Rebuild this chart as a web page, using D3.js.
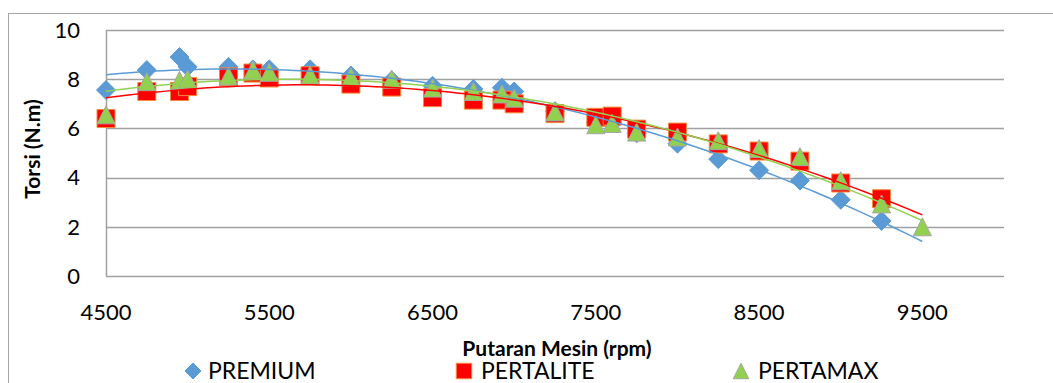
<!DOCTYPE html>
<html>
<head>
<meta charset="utf-8">
<script src="https://cdn.jsdelivr.net/npm/d3@7"></script>
<style>
  body { margin: 0; background: #fff; }
  text { font-family: Lato, "Open Sans", sans-serif; fill: #000; }
</style>
</head>
<body>
<div id="chart"></div>
<script>
var seriesNames = ['PREMIUM', 'PERTALITE', 'PERTAMAX'];
var rpm = [4500, 4750, 4950, 5000, 5250, 5400, 5500, 5750, 6000, 6250, 6500, 6750,
           6925, 7000, 7250, 7500, 7600, 7750, 8000, 8250, 8500, 8750, 9000, 9250];
var rpmPertamax = rpm.concat([9500]);
var torsiPremium = [7.56, 8.37, 8.9, 8.5, 8.5, 8.4, 8.4, 8.4, 8.15, 7.95, 7.73, 7.6,
                    7.65, 7.5, 6.7, 6.25, 6.2, 5.8, 5.38, 4.75, 4.3, 3.88, 3.1, 2.24];
var torsiPertalite = [6.4, 7.5, 7.5, 7.7, 8.1, 8.25, 8.05, 8.14, 7.8, 7.68, 7.25, 7.15,
                      7.15, 7.0, 6.6, 6.45, 6.5, 5.97, 5.85, 5.37, 5.08, 4.67, 3.78, 3.14];
var torsiPertamax = [6.55, 7.9, 7.95, 8.0, 8.13, 8.37, 8.28, 8.17, 8.1, 8.0, 7.64, 7.5,
                     7.4, 7.23, 6.67, 6.15, 6.2, 5.85, 5.65, 5.5, 5.18, 4.85, 3.87, 2.93, 2.0];
var xTicks = [4500, 5500, 6500, 7500, 8500, 9500];
var yTicks = [0, 2, 4, 6, 8, 10];

var width = 1053, height = 383;
var plotLeft = 106, plotRight = 1004, plotTop = 30, plotBottom = 276;

var svg = d3.select('#chart').append('svg')
  .attr('width', width)
  .attr('height', height);

svg.append('rect')
  .attr('width', width).attr('height', height)
  .attr('fill', '#fff');

// chart frame (runs off the right/bottom of the picture)
svg.append('rect')
  .attr('x', 8.5).attr('y', 13.5)
  .attr('width', 1100).attr('height', 400)
  .attr('fill', 'none')
  .attr('stroke', '#a6a6a6')
  .attr('stroke-width', 1);

var x = d3.scaleLinear().domain([4500, 10000]).range([plotLeft, plotRight]);
var y = d3.scaleLinear().domain([0, 10]).range([plotBottom, plotTop]);

// gridlines
svg.append('g').selectAll('line')
  .data(yTicks)
  .enter().append('line')
  .attr('x1', plotLeft).attr('x2', plotRight)
  .attr('y1', function(d) { return Math.round(y(d)) + 0.5; })
  .attr('y2', function(d) { return Math.round(y(d)) + 0.5; })
  .attr('stroke', '#a0a0a0')
  .attr('stroke-width', 1.5);

svg.append('line')
  .attr('x1', plotLeft + 0.5).attr('x2', plotLeft + 0.5)
  .attr('y1', plotTop).attr('y2', plotBottom)
  .attr('stroke', '#a0a0a0')
  .attr('stroke-width', 1.5);

// tick labels
svg.append('g').selectAll('text')
  .data(yTicks)
  .enter().append('text')
  .attr('x', 80)
  .attr('y', function(d) { return y(d); })
  .attr('dy', '0.35em')
  .attr('text-anchor', 'end')
  .style('font-size', '22px')
  .text(function(d) { return d; });

svg.append('g').selectAll('text')
  .data(xTicks)
  .enter().append('text')
  .attr('x', function(d) { return x(d); })
  .attr('y', 312)
  .attr('dy', '0.35em')
  .attr('text-anchor', 'middle')
  .style('font-size', '22px')
  .text(function(d) { return d; });

// axis titles
svg.append('text')
  .attr('x', 557).attr('y', 349)
  .attr('dy', '0.35em')
  .attr('text-anchor', 'middle')
  .style('font-size', '21px')
  .style('font-weight', 'bold')
  .text('Putaran Mesin (rpm)');

svg.append('text')
  .attr('transform', 'translate(33,149) rotate(-90)')
  .attr('dy', '0.35em')
  .attr('text-anchor', 'middle')
  .style('font-size', '21px')
  .style('font-weight', 'bold')
  .text('Torsi (N.m)');

// marker shapes
var diamond = {
  draw: function(ctx, size) {
    var r = Math.sqrt(size) / 2;
    ctx.moveTo(0, -r); ctx.lineTo(r, 0); ctx.lineTo(0, r); ctx.lineTo(-r, 0); ctx.closePath();
  }
};
var triangle = {
  draw: function(ctx, size) {
    var r = Math.sqrt(size) / 2;
    ctx.moveTo(0, -r); ctx.lineTo(r, r); ctx.lineTo(-r, r); ctx.closePath();
  }
};

var series = [
  { name: seriesNames[0], xs: rpm, ys: torsiPremium, shape: diamond, fill: '#5b9bd5', stroke: '#5b9bd5', line: '#5b9bd5', size: 19 * 19 },
  { name: seriesNames[1], xs: rpm, ys: torsiPertalite, shape: d3.symbolSquare, fill: '#ff0000', stroke: '#f08c3c', line: '#ff0000', size: 18 * 18 },
  { name: seriesNames[2], xs: rpmPertamax, ys: torsiPertamax, shape: triangle, fill: '#92d050', stroke: '#a5a5a5', line: '#92d050', size: 18 * 18 }
];

series.forEach(function(s) {
  var pts = s.xs.map(function(v, i) { return [v, s.ys[i]]; });
  svg.append('g').selectAll('path')
    .data(pts)
    .enter().append('path')
    .attr('transform', function(d) { return 'translate(' + x(d[0]) + ',' + y(d[1]) + ')'; })
    .attr('d', d3.symbol().type(s.shape).size(s.size))
    .attr('fill', s.fill)
    .attr('stroke', s.stroke)
    .attr('stroke-width', 1);
});

// polynomial trendlines (least squares, order 2)
function polyfit(xs, ys, order) {
  var n = order + 1, A = [], b = [];
  for (var i = 0; i < n; i++) {
    A.push([]); b.push(0);
    for (var j = 0; j < n; j++) A[i].push(0);
  }
  xs.forEach(function(xv, k) {
    var t = (xv - 7000) / 1000;
    for (var i = 0; i < n; i++) {
      b[i] += ys[k] * Math.pow(t, i);
      for (var j = 0; j < n; j++) A[i][j] += Math.pow(t, i + j);
    }
  });
  for (var c = 0; c < n; c++) {
    for (var r = c + 1; r < n; r++) {
      var f = A[r][c] / A[c][c];
      for (var k = c; k < n; k++) A[r][k] -= f * A[c][k];
      b[r] -= f * b[c];
    }
  }
  var coef = new Array(n);
  for (var r2 = n - 1; r2 >= 0; r2--) {
    var sum = b[r2];
    for (var k2 = r2 + 1; k2 < n; k2++) sum -= A[r2][k2] * coef[k2];
    coef[r2] = sum / A[r2][r2];
  }
  return function(xv) {
    var t = (xv - 7000) / 1000, v = 0;
    for (var i = 0; i < n; i++) v += coef[i] * Math.pow(t, i);
    return v;
  };
}

var line = d3.line()
  .x(function(d) { return x(d[0]); })
  .y(function(d) { return y(d[1]); });

series.forEach(function(s) {
  var fit = polyfit(s.xs, s.ys, 2);
  var samples = d3.range(4500, 9501, 50).map(function(v) { return [v, fit(v)]; });
  svg.append('path')
    .datum(samples)
    .attr('d', line)
    .attr('fill', 'none')
    .attr('stroke', s.line)
    .attr('stroke-width', 1.5);
});

// legend
var legendX = [193, 464, 741];
var legend = svg.selectAll('.legend')
  .data(series)
  .enter().append('g')
  .attr('class', 'legend')
  .attr('transform', function(d, i) { return 'translate(' + legendX[i] + ',371)'; });

legend.append('path')
  .attr('d', function(d) { return d3.symbol().type(d.shape).size(d.shape === diamond ? 256 : 240)(); })
  .attr('fill', function(d) { return d.fill; })
  .attr('stroke', function(d) { return d.stroke; })
  .attr('stroke-width', 1);

legend.append('text')
  .attr('x', function(d, i) { return [15, 17, 17][i]; })
  .attr('dy', '0.35em')
  .style('font-size', '23px')
  .text(function(d) { return d.name; });
</script>
</body>
</html>
